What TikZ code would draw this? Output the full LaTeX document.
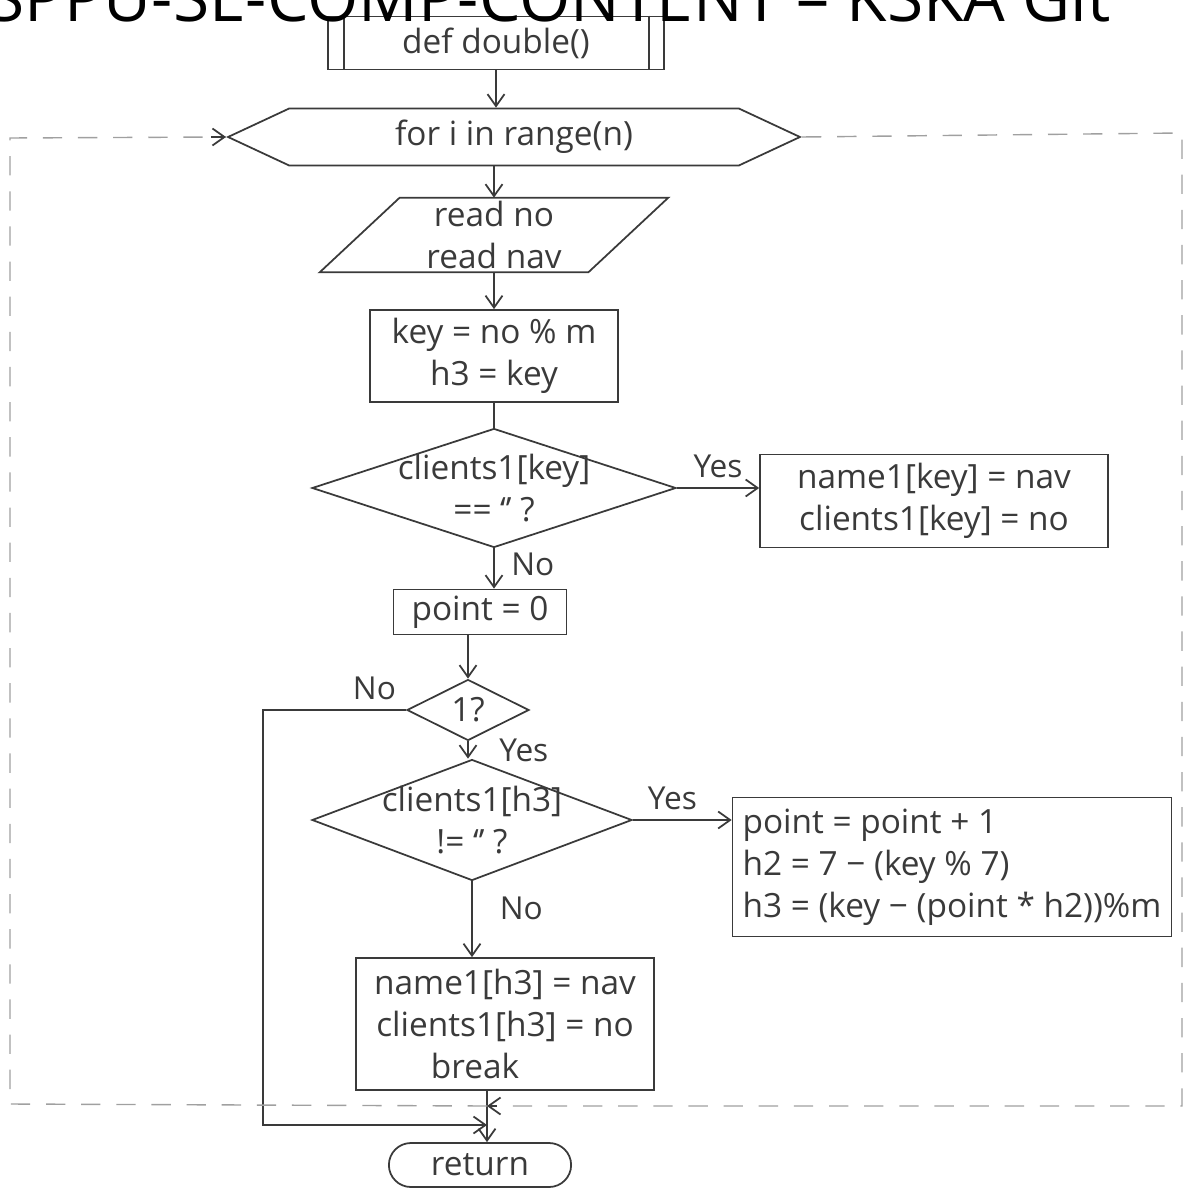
\documentclass[tikz,border=0pt]{standalone}
\usepackage{fontspec}
\setmainfont{Open Sans}
\usetikzlibrary{arrows.meta,positioning,shapes.geometric,shapes.symbols,shapes.misc}
\definecolor{Ink}{HTML}{3A3A3A}
\definecolor{Pencil}{HTML}{A0A0A0}

\begin{document}
\begin{tikzpicture}[x=0.02cm, y=-0.02cm,
    every node/.style={text=Ink, font=\fontsize{19}{24}\selectfont},
    box/.style={draw=Ink, line width=1pt, rectangle, align=center},
    dec/.style={draw=Ink, line width=1pt, diamond, inner sep=0pt},
    txt/.style={align=center},
    lbl/.style={font=\fontsize{18}{20}\selectfont},
    line/.style={draw=Ink, line width=1pt},
    flow/.style={line, -{Straight Barb[length=2.4mm,width=3.4mm]}},
    loopln/.style={draw=Pencil, line width=0.8pt, dash pattern=on 11pt off 9pt}
  ]
  \useasboundingbox (0,0) rectangle (1186,1192);

  % start
  \node[box, minimum width=6.72cm, minimum height=1.06cm] (fn) at (496,43) {def double()};
  \draw[line] ([xshift=0.34cm]fn.north west) -- ([xshift=0.34cm]fn.south west);
  \draw[line] ([xshift=-0.32cm]fn.north east) -- ([xshift=-0.32cm]fn.south east);

  % loop head
  \node[draw=Ink, line width=1pt, signal, signal to=east and west, signal pointer angle=50,
        minimum width=11.44cm, minimum height=1.14cm, inner sep=0pt] (loop) at (514,137) {for i in range(n)};

  % input
  \node[minimum width=5.36cm, minimum height=1.48cm, align=center, inner sep=0pt] (rd) at (494,235) {read no\\read nav};
  \draw[line] ([xshift=0.8cm]rd.north west) -- ([xshift=0.8cm]rd.north east)
    -- ([xshift=-0.8cm]rd.south east) -- ([xshift=-0.8cm]rd.south west) -- cycle;

  \node[box, minimum width=4.96cm, minimum height=1.84cm] (calc) at (494,356) {key = no \% m\\h3 = key};

  \node[dec, minimum width=7.28cm, minimum height=2.38cm,
        label={[txt]center:clients1[key]\\== ‘’ ?}] (d1) at (494,488) {};
  \node[box, minimum width=6.96cm, minimum height=1.86cm] (put1) at (934,501) {name1[key] = nav\\clients1[key] = no};

  \node[box, minimum width=3.46cm, minimum height=0.9cm] (pt) at (480,612) {point = 0};

  \node[dec, minimum width=2.44cm, minimum height=1.22cm, label={[txt]center:1?}] (d2) at (468,710) {};

  \node[dec, minimum width=6.4cm, minimum height=2.42cm,
        label={[txt]center:clients1[h3]\\!= ‘’ ?}] (d3) at (472,820) {};
  \node[box, minimum width=8.78cm, minimum height=2.78cm, align=left] (upd) at (952,867)
        {point = point + 1\\h2 = 7 − (key \% 7)\\h3 = (key − (point * h2))\%m};

  \node[box, minimum width=5.96cm, minimum height=2.64cm] (put2) at (505,1024)
        {name1[h3] = nav\\clients1[h3] = no\\break\hspace*{1.2cm}};

  \node[draw=Ink, line width=1pt, rounded rectangle, minimum width=3.88cm, minimum height=0.88cm] (ret) at (480,1165) {return};

  \coordinate (jn) at (487,1125);
  \coordinate (lft) at (263,1125);
  \coordinate (ne) at (1182,133);
  \coordinate (se) at (1182,1106);
  \coordinate (lb) at (487,1106);
  \coordinate (sw) at (10,1104);
  \coordinate (nw) at (10,138);

  % connectors
  \draw[flow] (fn.south) -- (fn.south |- loop.north);
  \draw[flow] (rd.north |- loop.south) -- (rd.north);
  \draw[flow] (rd.south) -- (calc.north);
  \draw[line] (calc.south) -- (d1.north);
  \draw[flow] (d1.east) -- node[lbl, above=2pt] (y1) {Yes} (d1.east -| put1.west);
  \draw[flow] (d1.south) -- node[lbl, right=6pt, pos=0.4] (n1) {No} (d1.south |- pt.north);
  \draw[flow] (d2.north |- pt.south) -- (d2.north);
  \draw[flow] (d2.west) -- node[lbl, pos=0, above left=2pt and 2pt] (n2) {No} (d2.west -| lft) -- (lft) -- (jn);
  \draw[flow] (d2.south) -- node[lbl, pos=0.5, right=14pt] (y2) {Yes} (d2.south |- d3.north);
  \draw[flow] (d3.east) -- node[lbl, above=2pt, pos=0.4] (y3) {Yes} (d3.east -| upd.west);
  \draw[flow] (d3.south) -- node[lbl, right=12pt, pos=0.35] (n3) {No} (d3.south |- put2.north);
  \draw[flow] (jn |- put2.south) -- (jn |- ret.north);

  % loop back
  \draw[loopln] (loop.east) -- (ne) -- (se) -- (lb);
  \draw[loopln] (lb) -- (sw) -- (nw) -- (loop.west);
  \draw[line, -{Straight Barb[length=2.4mm,width=3.4mm]}] ([xshift=0.2cm]lb) -- (lb);
  \draw[line, -{Straight Barb[length=2.4mm,width=3.4mm]}] ([xshift=-0.3cm]loop.west) -- (loop.west);

  % watermark
  \node[anchor=base west, inner sep=0pt, text=black, font=\fontsize{37.5}{40}\selectfont] (wm) at (-12,22)
        {SPPU-SE-COMP-CONTENT – KSKA Git};
\end{tikzpicture}
\end{document}
